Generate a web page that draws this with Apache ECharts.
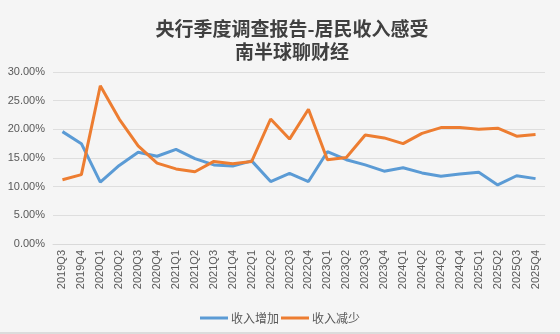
<!DOCTYPE html>
<html><head><meta charset="utf-8">
<script src="https://cdn.jsdelivr.net/npm/echarts@6/dist/echarts.min.js"></script>
<style>html,body{margin:0;padding:0;background:#f5f5f5;}#c{width:560px;height:334px;}</style>
</head><body><div id="c"></div>
<script>
const categories = ['2019Q3','2019Q4','2020Q1','2020Q2','2020Q3','2020Q4','2021Q1','2021Q2','2021Q3','2021Q4','2022Q1','2022Q2','2022Q3','2022Q4','2023Q1','2023Q2','2023Q3','2023Q4','2024Q1','2024Q2','2024Q3','2024Q4','2025Q1','2025Q2','2025Q3','2025Q4'];
const incomeUp = [19.6,17.5,10.8,13.7,16.0,15.3,16.5,14.9,13.8,13.6,14.5,10.9,12.3,10.9,16.1,14.7,13.8,12.7,13.3,12.4,11.8,12.2,12.5,10.3,11.9,11.4];
const incomeDown = [11.2,12.1,27.6,21.8,17.1,14.1,13.1,12.6,14.4,14.0,14.4,21.8,18.3,23.5,14.7,15.1,19.0,18.5,17.5,19.3,20.3,20.3,20.0,20.2,18.8,19.1];
const seriesNames = ['收入增加','收入减少'];
const yTicks = {min:0,max:30,interval:5};

const chart = echarts.init(document.getElementById('c'));
chart.setOption({
  backgroundColor:'#f5f5f5',
  title:{
    text:'央行季度调查报告-居民收入感受\n南半球聊财经',
    left:287, textAlign:'center', top:12,
    textStyle:{fontFamily:'Noto Sans CJK SC',fontSize:19,fontWeight:'bold',color:'#404040',lineHeight:23}
  },
  legend:{
    top:307, left:'center', itemGap:2, itemWidth:28, itemHeight:3,
    icon:'rect',
    textStyle:{fontFamily:'Noto Sans CJK SC',fontSize:12,color:'#595959',padding:[0,0,0,-2]},
    data:seriesNames
  },
  grid:{left:53,right:15,top:72,bottom:90},
  xAxis:{
    type:'category', data:categories, boundaryGap:true,
    axisLine:{lineStyle:{color:'#d9d9d9'}},
    axisTick:{show:false},
    axisLabel:{rotate:90,fontFamily:'Liberation Sans',fontSize:11,color:'#595959',interval:0,margin:6}
  },
  yAxis:{
    type:'value', min:yTicks.min, max:yTicks.max, interval:yTicks.interval,
    axisLine:{show:false}, axisTick:{show:false},
    splitLine:{lineStyle:{color:'#dedede'}},
    axisLabel:{formatter:v=>v.toFixed(2)+'%',fontFamily:'Liberation Sans',fontSize:11,color:'#595959',margin:8}
  },
  graphic:[{type:'rect',left:0,top:332,shape:{width:560,height:2},style:{fill:'#dcdcdc'}}],
  series:[
    {name:seriesNames[0],type:'line',data:incomeUp,symbol:'none',lineStyle:{width:3,color:'#5b9bd5'},itemStyle:{color:'#5b9bd5'}},
    {name:seriesNames[1],type:'line',data:incomeDown,symbol:'none',lineStyle:{width:3,color:'#ed7d31'},itemStyle:{color:'#ed7d31'}}
  ],
  animation:false
});
</script></body></html>
